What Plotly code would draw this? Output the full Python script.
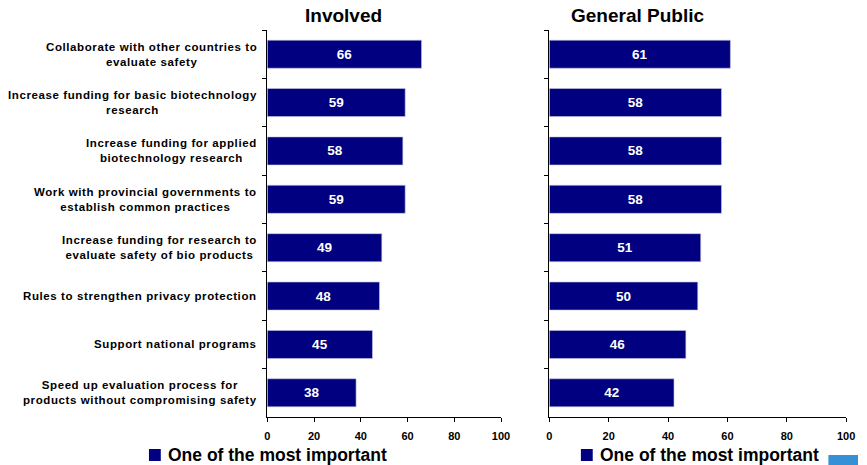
import plotly.graph_objects as go

categories = [
    "Collaborate with other countries to<br>evaluate safety",
    "Increase funding for basic biotechnology<br>research",
    "Increase funding for applied<br>biotechnology research",
    "Work with provincial governments to<br>establish common practices",
    "Increase funding for research to<br>evaluate safety of bio products",
    "Rules to strengthen privacy protection",
    "Support national programs",
    "Speed up evaluation process for<br>products without compromising safety",
]
involved = [66, 59, 58, 59, 49, 48, 45, 38]
general_public = [61, 58, 58, 58, 51, 50, 46, 42]
panel_titles = ["Involved", "General Public"]
series_name = "One of the most important"
x_ticks = [0, 20, 40, 60, 80, 100]

W, H = 867, 465
NAVY = "#000080"
FONT = "Arial, Liberation Sans, sans-serif"

fig = go.Figure()

for vals, xa, ya in [(involved, "x", "y"), (general_public, "x2", "y2")]:
    fig.add_trace(go.Bar(
        x=vals, y=categories, orientation="h",
        xaxis=xa, yaxis=ya, name=series_name,
        marker=dict(color=NAVY, line=dict(color="#c8c8e0", width=0.6)),
        text=[str(v) for v in vals], textposition="inside",
        insidetextanchor="middle",
        textfont=dict(color="white", size=13.5, family=FONT, weight="bold"),
        showlegend=False, cliponaxis=False,
    ))

y_dom = [1 - 417 / H, 1 - 30 / H]
x1_dom = [268 / W, 505 / W]
x2_dom = [554 / W, 855 / W]

axis_common = dict(
    range=[0, 100], tickvals=x_ticks, showgrid=False, zeroline=False,
    showline=True, linecolor="black", linewidth=1,
    ticks="outside", ticklen=4, tickcolor="black",
    tickfont=dict(size=11, family=FONT, color="black", weight="bold"),
    ticklabelstandoff=5, fixedrange=True,
)
yaxis_common = dict(
    type="category", categoryorder="array", categoryarray=categories,
    autorange="reversed", showgrid=False, zeroline=False,
    showline=True, linecolor="black", linewidth=1,
    ticks="outside", ticklen=4, tickcolor="black", tickson="boundaries",
    showticklabels=False, domain=y_dom, fixedrange=True,
)

fig.update_layout(
    width=W, height=H, margin=dict(l=0, r=0, t=0, b=0),
    paper_bgcolor="white", plot_bgcolor="white",
    bargap=0.42,
    font=dict(family=FONT, color="black"),
    xaxis=dict(domain=x1_dom, anchor="y", **axis_common),
    xaxis2=dict(domain=x2_dom, anchor="y2", **axis_common),
    yaxis=dict(anchor="x", **yaxis_common),
    yaxis2=dict(anchor="x2", **yaxis_common),
)

# Panel titles
for title, cx in zip(panel_titles, [345, 643]):
    fig.add_annotation(
        text=title, xref="paper", yref="paper",
        x=cx / W, y=1 - 15.5 / H,
        xanchor="center", yanchor="middle", showarrow=False,
        font=dict(size=19, family=FONT, weight="bold", color="black"),
    )

# Category labels, centred line by line, to the left of the first panel
for cat in categories:
    spaced = "<br>".join(
        f'<span style="letter-spacing:0.6px">{line}</span>'
        for line in cat.split("<br>")
    )
    fig.add_annotation(
        text=spaced, xref="paper", yref="y", x=260 / W, y=cat,
        xanchor="right", yanchor="middle", align="center", showarrow=False,
        font=dict(size=11.5, family=FONT, weight="bold", color="black"),
    )

# Key under each panel: navy square plus series name
for sq_x in [148, 586]:
    fig.add_shape(type="rect", xref="paper", yref="paper",
                  x0=sq_x / W, x1=(sq_x + 12) / W,
                  y0=1 - 461 / H, y1=1 - 449 / H,
                  fillcolor=NAVY, line=dict(width=0))
    fig.add_annotation(
        text=series_name, xref="paper", yref="paper",
        x=(sq_x + 17) / W, y=1 - 455 / H,
        xanchor="left", yanchor="middle", showarrow=False,
        font=dict(size=17.5, family=FONT, weight="bold", color="black"),
    )

# Blue corner tab in the bottom-right of the slide
fig.add_shape(type="rect", xref="paper", yref="paper",
              x0=837 / W, x1=1.0, y0=0, y1=1 - 455 / H,
              fillcolor="#3590d6", line=dict(width=0), layer="above")

fig.write_html("out.html")
